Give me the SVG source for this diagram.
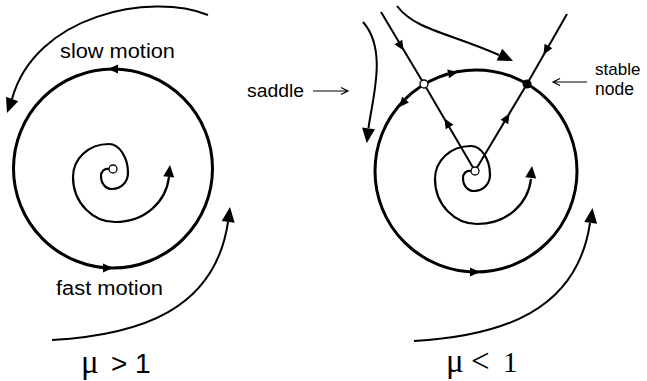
<svg xmlns="http://www.w3.org/2000/svg" xmlns:xlink="http://www.w3.org/1999/xlink" width="647" height="381" viewBox="0 0 647 381">
<style>
.cyc{fill:none;stroke:#000;stroke-width:3}
.sp{fill:none;stroke:#000;stroke-width:2.2}
.ln{fill:none;stroke:#000;stroke-width:2}
.thin{fill:none;stroke:#000;stroke-width:1.2}
.ah{fill:#000}
.lbl{font-family:"Liberation Sans",Arial,sans-serif;fill:#000}
.mu{font-family:"Liberation Serif","Times New Roman",serif}
</style>
<defs>
<path id="ah" d="M3,0 L-7,-4.5 L-7,4.5 Z"/>
<path id="mah" d="M0,0 L-12,-5.5 L-12,5.5 Z"/>
<path id="bah" d="M0,0 L-15,-6.5 L-15,6.5 Z"/>
<path id="spiral" d="M-4,0 C-9,-1 -12,3 -12,7 C-12,15 -7,20 -1,20 C9,20 15,12 15,4 C15,-12 6,-25 -4,-25 C-25,-25 -40,-10 -40,8 C-40,34 -20,53 2,53 C32,53 53,33 56,8"/>
</defs>
<rect width="647" height="381" fill="#fff"/>

<g id="left-diagram">
  <g id="left-limit-cycle">
    <circle class="cyc" cx="113" cy="168.5" r="99.5"/>
    <use href="#ah" class="ah" transform="translate(111,69) rotate(180)"/>
    <use href="#ah" class="ah" transform="translate(110,268) rotate(0)"/>
  </g>
  <g id="left-focus">
    <use href="#spiral" class="sp" transform="translate(113,169)"/>
    <use href="#mah" class="ah" transform="translate(170,165) rotate(-84)"/>
    <circle cx="113" cy="169" r="4" fill="#fff" stroke="#000" stroke-width="1.3"/>
  </g>
  <g id="left-labels" class="lbl">
    <text x="60" y="58" font-size="20" textLength="115" lengthAdjust="spacingAndGlyphs">slow motion</text>
    <text x="56" y="295" font-size="20" textLength="107" lengthAdjust="spacingAndGlyphs">fast motion</text>
    <text y="373" font-size="28"><tspan class="mu" x="81" font-size="33">μ</tspan><tspan x="111">&gt;</tspan><tspan x="135">1</tspan></text>
  </g>
</g>

<g id="right-diagram">
  <g id="right-limit-cycle">
    <circle class="cyc" cx="476" cy="171" r="101"/>
    <use href="#ah" class="ah" transform="translate(401,105) rotate(130.5)"/>
    <use href="#ah" class="ah" transform="translate(455,72.5) rotate(-12)"/>
    <use href="#ah" class="ah" transform="translate(477,272) rotate(0)"/>
  </g>
  <g id="right-focus">
    <use href="#spiral" class="sp" transform="translate(475,171)"/>
    <use href="#mah" class="ah" transform="translate(532,166) rotate(-84)"/>
  </g>
  <g id="right-labels" class="lbl">
    <text x="247" y="97" font-size="17.5" textLength="57" lengthAdjust="spacingAndGlyphs">saddle</text>
    <text x="595" y="75" font-size="17">stable</text>
    <text x="595" y="95" font-size="17.5">node</text>
    <text y="372" font-size="29" class="mu"><tspan x="446" font-size="33">μ</tspan><tspan x="471" font-size="33">&lt;</tspan><tspan x="503">1</tspan></text>
  </g>
</g>

<g id="connectors">
  <path class="ln" d="M208,15 C150,-8 35,15 12,99"/>
  <use href="#bah" class="ah" transform="translate(7,113) rotate(110)"/>
  <path class="ln" d="M52,340 C140,335 215,310 228,222"/>
  <use href="#bah" class="ah" transform="translate(230,207) rotate(-83)"/>
  <path class="ln" d="M414,341 C502,336 577,311 590,223"/>
  <use href="#bah" class="ah" transform="translate(592.5,208) rotate(-83)"/>
  <path class="ln" d="M363,22 C388,50 372,100 368.5,128"/>
  <use href="#bah" class="ah" transform="translate(366.7,143.3) rotate(97)"/>
  <path class="ln" d="M397,6 C415,30 450,33 499,55"/>
  <use href="#bah" class="ah" transform="translate(513,61) rotate(25)"/>

  <path class="ln" d="M381,12 L424,84"/>
  <use href="#ah" class="ah" transform="translate(402,48) rotate(59)"/>
  <path class="ln" d="M475,171 L424,84"/>
  <use href="#ah" class="ah" transform="translate(446,121) rotate(239.6)"/>
  <path class="ln" d="M567,14 L527,84"/>
  <use href="#ah" class="ah" transform="translate(545,52) rotate(119.7)"/>
  <path class="ln" d="M475,171 L527,84"/>
  <use href="#ah" class="ah" transform="translate(508,116) rotate(-59)"/>

  <path class="thin" d="M313,91 L348,91 M341,87.5 L348,91 L341,94.5"/>
  <path class="thin" d="M587,82 L553,82 M560,78.5 L553,82 L560,85.5"/>
</g>

<g id="saddle">
  <circle cx="424" cy="84" r="4" fill="#fff" stroke="#000" stroke-width="1.3"/>
</g>
<g id="stable-node">
  <circle cx="527" cy="84" r="4.5" fill="#000"/>
</g>
<g id="source">
  <circle cx="475" cy="171" r="4" fill="#fff" stroke="#000" stroke-width="1.3"/>
</g>
</svg>
